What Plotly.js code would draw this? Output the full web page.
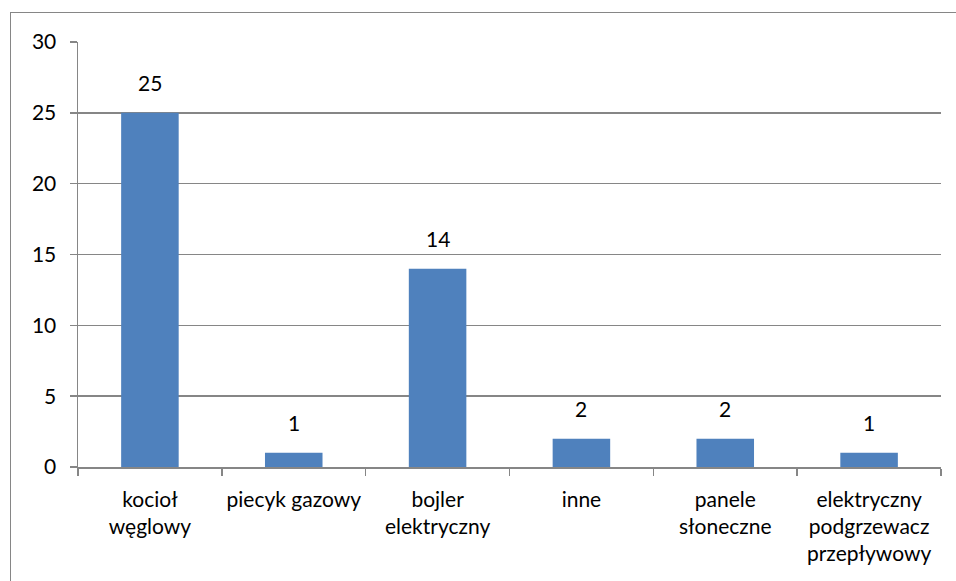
<!DOCTYPE html>
<html>
<head>
<meta charset="utf-8">
<script src="https://cdn.plot.ly/plotly-3.0.1.min.js"></script>
<style>
  html, body { margin:0; padding:0; background:#fff; overflow:hidden; }
  #wrap { position:relative; width:956px; height:581px; }
  #frame { position:absolute; left:10px; top:12px; width:1000px; height:1000px; border:1.5px solid #868686; box-sizing:border-box; }
  #chart { position:absolute; left:0; top:0; width:956px; height:581px; }
</style>
</head>
<body>
<div id="wrap">
  <div id="frame"></div>
  <div id="chart"></div>
</div>
<script>
const categories = ["kocioł węglowy", "piecyk gazowy", "bojler elektryczny", "inne", "panele słoneczne", "elektryczny podgrzewacz przepływowy"];
const tickLabels = ["kocioł<br>węglowy", "piecyk gazowy", "bojler<br>elektryczny", "inne", "panele<br>słoneczne", "elektryczny<br>podgrzewacz<br>przepływowy"];
const values = [25, 1, 14, 2, 2, 1];
const yTicks = [0, 5, 10, 15, 20, 25, 30];

const FONT = "Lato, 'Open Sans', sans-serif";
const GRID = "#868686";

const trace = {
  type: "bar",
  x: categories,
  y: values,
  width: 0.4,
  marker: { color: "#4F81BD", line: { width: 0 } },
  hoverinfo: "none"
};

const annotations = categories.map((c, i) => ({
  x: c, y: values[i], xref: "x", yref: "y",
  text: String(values[i]),
  showarrow: false, yanchor: "bottom", yshift: 16,
  font: { family: FONT, size: 21, color: "#000" }
}));

const layout = {
  width: 956, height: 581,
  margin: { l: 78, r: 15, t: 42, b: 114 },
  paper_bgcolor: "rgba(0,0,0,0)",
  plot_bgcolor: "rgba(0,0,0,0)",
  showlegend: false,
  bargap: 0.6,
  xaxis: {
    type: "category",
    tickvals: categories,
    ticktext: tickLabels,
    tickangle: 0,
    tickson: "boundaries",
    ticks: "outside", ticklen: 7, tickwidth: 1.5, tickcolor: GRID,
    showline: true, linecolor: GRID, linewidth: 1.5,
    showgrid: false, zeroline: false,
    ticklabelstandoff: 13,
    tickfont: { family: FONT, size: 21, color: "#000" },
    fixedrange: true
  },
  yaxis: {
    range: [0, 30],
    tickvals: yTicks,
    ticks: "outside", ticklen: 7, tickwidth: 1.5, tickcolor: GRID,
    showline: true, linecolor: GRID, linewidth: 1.5,
    showgrid: true, gridcolor: GRID, gridwidth: 1.5,
    zeroline: false,
    ticklabelstandoff: 9,
    tickfont: { family: FONT, size: 21, color: "#000" },
    fixedrange: true
  },
  annotations: annotations
};

Plotly.newPlot("chart", [trace], layout, { displayModeBar: false, staticPlot: true });
</script>
</body>
</html>
